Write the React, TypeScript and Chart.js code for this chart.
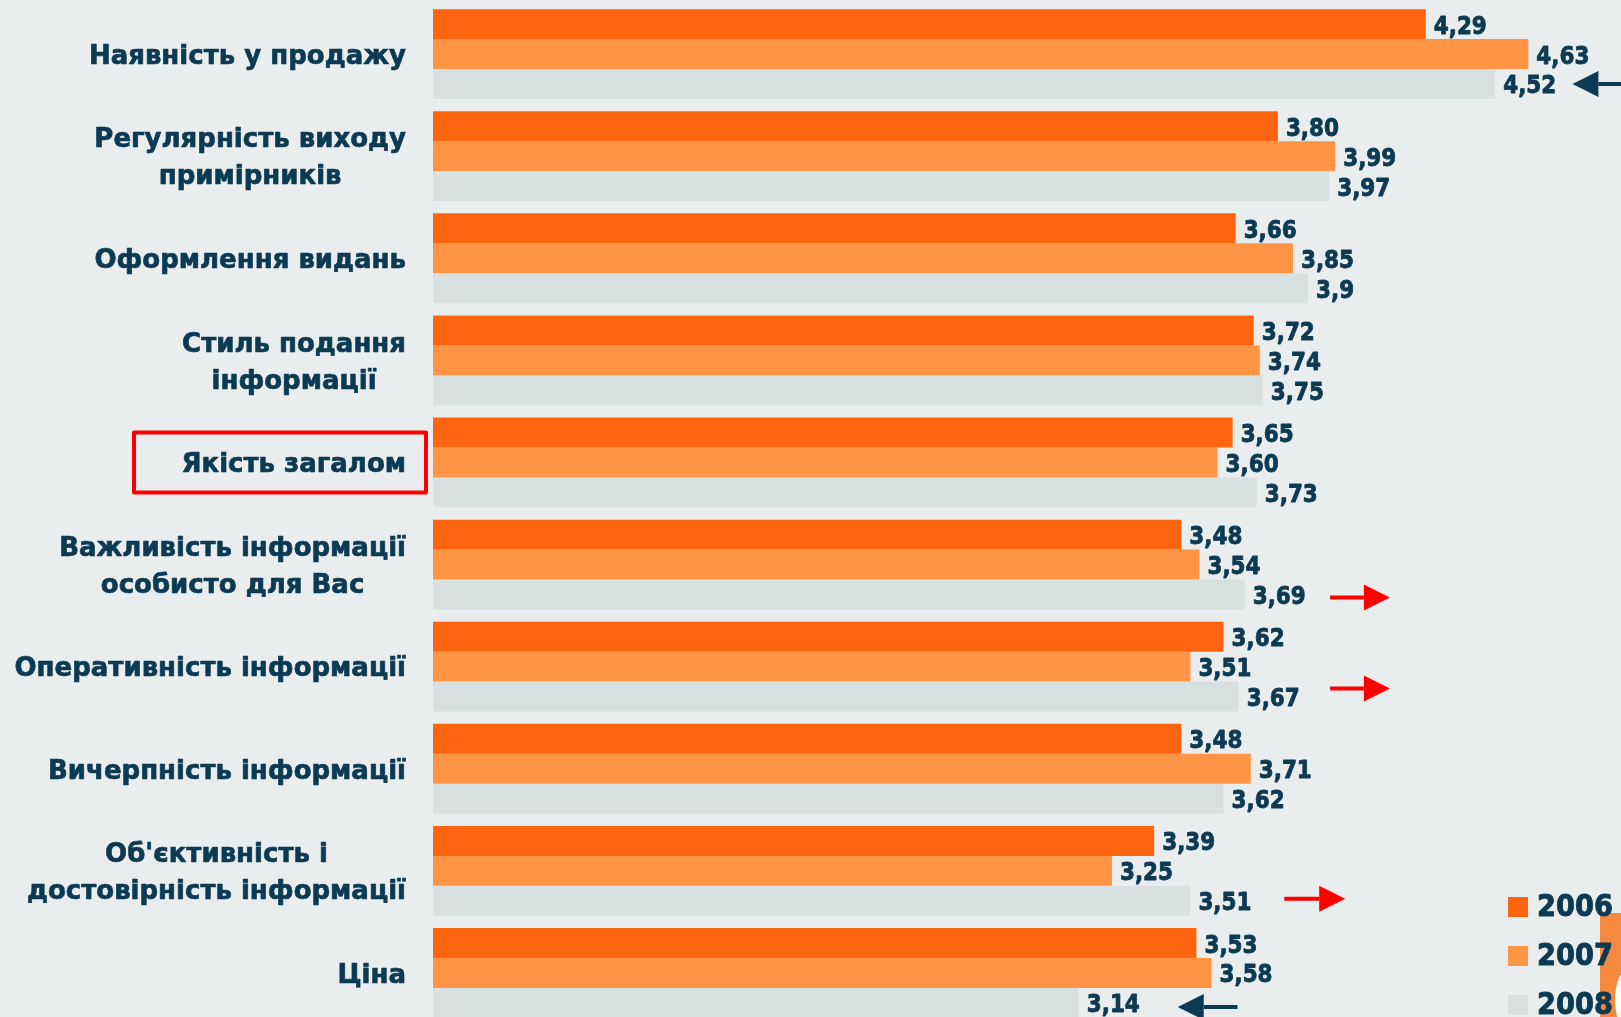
import React, { useEffect, useRef } from "react";
import { Chart, registerables } from "chart.js";

Chart.register(...registerables);

// ---------- data ----------
const categories: string[][] = [
  ["Наявність у продажу"],
  ["Регулярність виходу", "примірників"],
  ["Оформлення видань"],
  ["Стиль подання", "інформації"],
  ["Якість загалом"],
  ["Важливість інформації", "особисто для Вас"],
  ["Оперативність інформації"],
  ["Вичерпність інформації"],
  ["Об'єктивність і", "достовірність інформації"],
  ["Ціна"],
];
const years = ["2006", "2007", "2008"];
const values2006 = ["4,29", "3,80", "3,66", "3,72", "3,65", "3,48", "3,62", "3,48", "3,39", "3,53"];
const values2007 = ["4,63", "3,99", "3,85", "3,74", "3,60", "3,54", "3,51", "3,71", "3,25", "3,58"];
const values2008 = ["4,52", "3,97", "3,9", "3,75", "3,73", "3,69", "3,67", "3,62", "3,51", "3,14"];
const highlightedCategory = 4;
// arrows: category index, dataset index, tail value, tip value, colour, vertical nudge
const arrows = [
  { cat: 0, ds: 2, from: 4.96, to: 4.776, color: "#0c3a53", dy: 0 },
  { cat: 9, ds: 2, from: 3.666, to: 3.468, color: "#0c3a53", dy: 4 },
  { cat: 5, ds: 2, from: 3.973, to: 4.171, color: "#ff0000", dy: 3 },
  { cat: 6, ds: 2, from: 3.973, to: 4.171, color: "#ff0000", dy: -8 },
  { cat: 8, ds: 2, from: 3.821, to: 4.023, color: "#ff0000", dy: -2 },
];

const COLORS = ["#ff6510", "#ff9445", "#d9e1e0"];
const NAVY = "#0c3a53";
const BG = "#e9edee";
const FONT = "'DejaVu Sans', Verdana, sans-serif";

const toNum = (s: string) => parseFloat(s.replace(",", "."));
const series = [values2006, values2007, values2008];

const heavyText = (ctx: any, text: string, x: number, y: number, w: number) => {
  ctx.lineWidth = w;
  ctx.lineJoin = "round";
  ctx.strokeText(text, x, y);
  ctx.fillText(text, x, y);
};

const drawPlugin = {
  id: "custom",
  beforeDraw(chart: any) {
    const ctx = chart.ctx;
    ctx.save();
    ctx.fillStyle = BG;
    ctx.fillRect(0, 0, chart.width, chart.height);
    ctx.restore();
  },
  afterDatasetsDraw(chart: any) {
    const ctx = chart.ctx;
    const area = chart.chartArea;
    const xs = chart.scales.x;
    const ys = chart.scales.y;
    ctx.save();

    // category labels (block right-aligned, lines centred)
    ctx.fillStyle = NAVY;
    ctx.strokeStyle = NAVY;
    ctx.font = `bold 26px ${FONT}`;
    ctx.textAlign = "center";
    ctx.textBaseline = "middle";
    const labelRight = area.left - 27;
    const lineH = 37;
    categories.forEach((lines, i) => {
      const cy = ys.getPixelForValue(i) + 3;
      const maxW = Math.max(...lines.map((l) => ctx.measureText(l).width));
      const cx = labelRight - maxW / 2;
      lines.forEach((l, j) => {
        const y = cy + (j - (lines.length - 1) / 2) * lineH;
        heavyText(ctx, l, cx, y, 0.7);
      });
      if (i === highlightedCategory) {
        ctx.save();
        ctx.strokeStyle = "#ff0000";
        ctx.lineWidth = 4;
        ctx.strokeRect(labelRight - 272, cy - 33, 292, 60);
        ctx.restore();
      }
    });

    // value labels
    ctx.font = `bold 25px ${FONT}`;
    ctx.textAlign = "left";
    series.forEach((vals, d) => {
      const meta = chart.getDatasetMeta(d);
      meta.data.forEach((bar: any, i: number) => {
        ctx.save();
        ctx.translate(bar.x + 8, bar.y + 3);
        ctx.scale(0.86, 1);
        heavyText(ctx, vals[i], 0, 0, 0.9);
        ctx.restore();
      });
    });

    // arrows
    arrows.forEach((a) => {
      const bar = chart.getDatasetMeta(a.ds).data[a.cat];
      const y = bar.y + a.dy;
      const x0 = xs.getPixelForValue(a.from);
      const x1 = xs.getPixelForValue(a.to);
      const dir = Math.sign(x1 - x0);
      const headL = 26;
      const headH = 13;
      ctx.strokeStyle = a.color;
      ctx.fillStyle = a.color;
      ctx.lineWidth = 4;
      ctx.beginPath();
      ctx.moveTo(x0, y);
      ctx.lineTo(x1 - dir * headL, y);
      ctx.stroke();
      ctx.beginPath();
      ctx.moveTo(x1, y);
      ctx.lineTo(x1 - dir * headL, y - headH);
      ctx.lineTo(x1 - dir * headL, y + headH);
      ctx.closePath();
      ctx.fill();
    });

    // decorative corner block
    ctx.fillStyle = "#f58a3e";
    ctx.fillRect(1600, 913, 30, 120);
    ctx.fillStyle = "#ffffff";
    ctx.beginPath();
    ctx.ellipse(1630, 1000, 15, 32, 0, 0, Math.PI * 2);
    ctx.fill();

    // legend
    ctx.font = `bold 31px ${FONT}`;
    ctx.textBaseline = "middle";
    years.forEach((yr, d) => {
      const cy = 907 + d * 49;
      ctx.fillStyle = COLORS[d];
      ctx.fillRect(1508, cy - 10, 20, 20);
      ctx.fillStyle = NAVY;
      ctx.strokeStyle = NAVY;
      ctx.save();
      ctx.translate(1537, cy + 1);
      ctx.scale(0.88, 1);
      heavyText(ctx, yr, 0, 0, 1);
      ctx.restore();
    });

    ctx.restore();
  },
};

export default function App() {
  const ref = useRef<HTMLCanvasElement | null>(null);
  useEffect(() => {
    if (!ref.current) return;
    const chart = new Chart(ref.current, {
      type: "bar",
      data: {
        labels: categories.map((c) => c.join(" ")),
        datasets: years.map((y, d) => ({
          label: y,
          data: series[d].map(toNum),
          backgroundColor: COLORS[d],
          borderWidth: 0,
          categoryPercentage: 0.88,
          barPercentage: 1.0,
        })),
      },
      options: {
        indexAxis: "y",
        responsive: false,
        animation: false,
        devicePixelRatio: 1,
        layout: { padding: { left: 433, top: 3, right: 0, bottom: 0 } },
        plugins: { legend: { display: false }, tooltip: { enabled: false } },
        scales: {
          x: { display: false, min: 1, max: 4.937, grid: { display: false } },
          y: { display: false, grid: { display: false } },
        },
      },
      plugins: [drawPlugin],
    } as any);
    return () => chart.destroy();
  }, []);
  return (
    <div
      style={{
        position: "fixed",
        left: 0,
        top: 0,
        width: 1621,
        height: 1017,
        overflow: "hidden",
        background: BG,
      }}
    >
      <canvas ref={ref} width={1621} height={1024} style={{ display: "block" }} />
    </div>
  );
}
